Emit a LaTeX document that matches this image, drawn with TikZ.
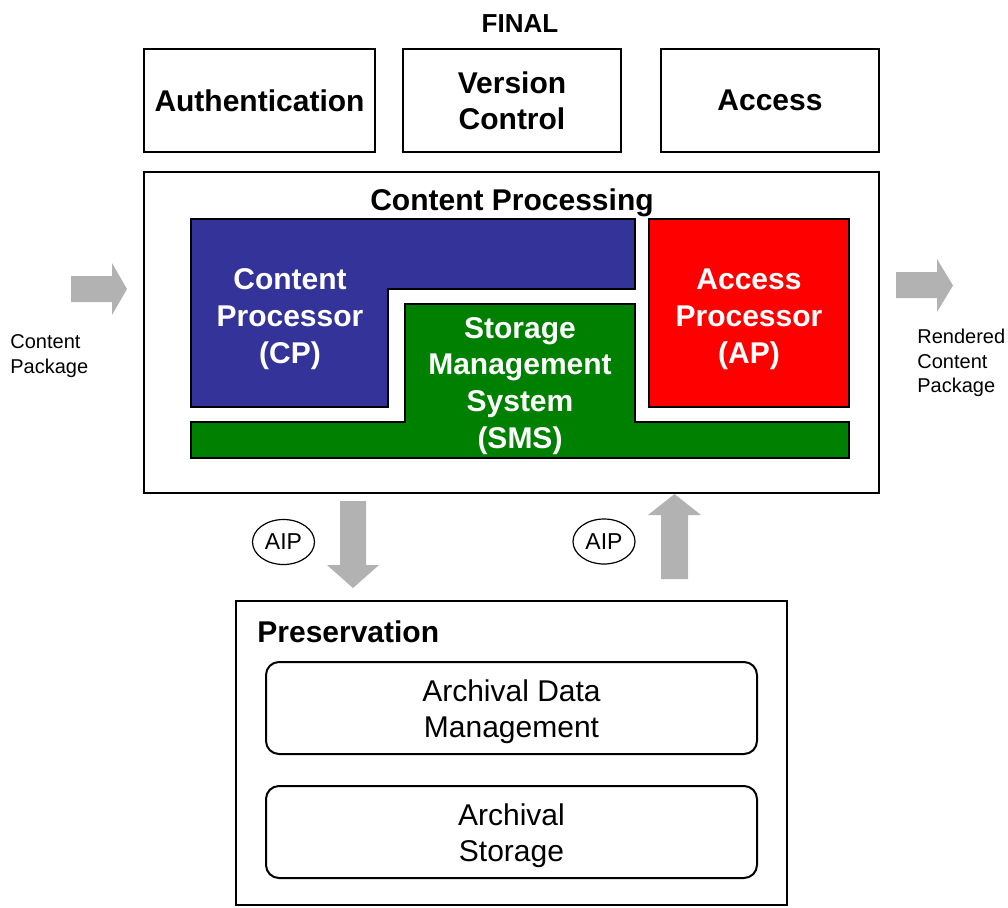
\documentclass[tikz,border=0pt]{standalone}
\usepackage{fontspec}
\setmainfont{Liberation Sans}
\usepackage{tikz}
\usetikzlibrary{shapes.geometric, positioning}
\definecolor{cpblue}{RGB}{51,51,153}
\definecolor{smsgreen}{RGB}{0,128,0}
\definecolor{apred}{RGB}{255,0,0}
\definecolor{arrowgray}{RGB}{178,178,178}
\tikzstyle{topbox} = [rectangle, draw=black, line width=1pt, minimum height=51.5pt, minimum width=109pt, text centered, align=center, font=\fontsize{15}{18}\selectfont\bfseries]
\tikzstyle{panel} = [rectangle, draw=black, line width=1pt]
\tikzstyle{unit} = [draw=black, line width=0.8pt]
\tikzstyle{whitetext} = [text=white, align=center, font=\fontsize{15}{18.4}\selectfont\bfseries]
\tikzstyle{archbox} = [rectangle, rounded corners=6.5pt, draw=black, line width=1pt, minimum width=245.5pt, minimum height=46pt, align=center, font=\fontsize{15}{18}\selectfont]
\tikzstyle{aip} = [ellipse, draw=black, line width=0.6pt, minimum width=31pt, minimum height=22.5pt, inner sep=0pt, font=\fontsize{11.5}{14}\selectfont]
\tikzstyle{bigarrow} = [fill=arrowgray, draw=none]
\tikzstyle{caption} = [anchor=west, align=left, inner sep=0pt, font=\fontsize{10}{12.4}\selectfont]

\begin{document}
\begin{tikzpicture}[x=0.5pt, y=-0.5pt]
\useasboundingbox (0,0) rectangle (1008,907);
% Row 1
\node (final) at (520,23.5) [font=\fontsize{13}{16}\selectfont\bfseries] {FINAL};
\node (auth) at (259.5,100.5) [topbox, minimum width=115.5pt] {Authentication};
\node (version) at (512,100.5) [topbox, text depth=0pt] {Version\\Control};
\node (access) at (770,100.5) [topbox] {Access};
% Row 2
\node (proc) at (511.5,332.5) [panel, minimum width=367.5pt, minimum height=160.5pt] {};
\node (proctitle) at (512,203) [font=\fontsize{15}{18}\selectfont\bfseries] {Content Processing};
\draw [unit, fill=cpblue] (191,219) -- (635,219) -- (635,289) -- (388,289) -- (388,407) -- (191,407) -- cycle;
\draw [unit, fill=smsgreen] (405,304) -- (635,304) -- (635,422) -- (849,422) -- (849,458) -- (191,458) -- (191,422) -- (405,422) -- cycle;
\node (cp) at (290,319) [whitetext] {Content\\Processor\\(CP)};
\node (sms) at (520,386) [whitetext] {Storage\\Management\\System\\(SMS)};
\node (ap) at (749,313) [unit, fill=apred, minimum width=100pt, minimum height=94pt, whitetext] {};
\node (aptext) at (749,319) [whitetext] {Access\\Processor\\(AP)};
\node (inpkg) at (10,356) [caption] {Content\\Package};
\node (outpkg) at (917,363) [caption] {Rendered\\Content\\Package};
% Arrows
\fill [bigarrow] (71,276) -- (112,276) -- (112,263) -- (127,289) -- (112,315) -- (112,302) -- (71,302) -- cycle;
\fill [bigarrow] (896,272) -- (937,272) -- (937,259) -- (953,285.5) -- (937,312) -- (937,298) -- (896,298) -- cycle;
\fill [bigarrow] (340,501) -- (366,501) -- (366,565) -- (379,565) -- (353,588) -- (327,565) -- (340,565) -- cycle;
\fill [bigarrow] (661,579) -- (661,515) -- (648,515) -- (674.5,494) -- (701,515) -- (688,515) -- (688,579) -- cycle;
\node (aipdown) at (283.5,542) [aip] {AIP};
\node (aipup) at (604,541.5) [aip] {AIP};
% Row 3
\node (pres) at (511.5,753) [panel, minimum width=275.5pt, minimum height=152pt] {};
\node (prestitle) at (257,632) [anchor=west, inner sep=0pt, font=\fontsize{15}{18}\selectfont\bfseries] {Preservation};
\node (adm) at (511.5,708) [archbox] {};
\node (admtext) at (511.5,712) [align=center, font=\fontsize{15}{18}\selectfont] {Archival Data\\Management};
\node (store) [archbox, below=15pt of adm] {};
\node (storetext) at ([yshift=-2pt]store) [align=center, font=\fontsize{15}{18}\selectfont] {Archival\\Storage};
\end{tikzpicture}
\end{document}
